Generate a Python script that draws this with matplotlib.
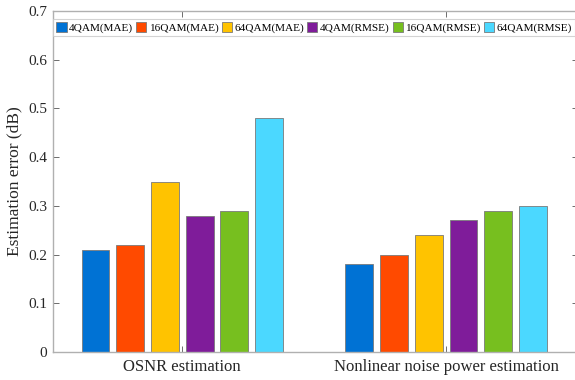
import matplotlib.pyplot as plt
import numpy as np

plt.rcParams['font.family'] = ['Liberation Serif', 'DejaVu Serif']

groups = ['OSNR estimation', 'Nonlinear noise power estimation']
series = ['4QAM(MAE)', '16QAM(MAE)', '64QAM(MAE)', '4QAM(RMSE)', '16QAM(RMSE)', '64QAM(RMSE)']
values = [
    [0.21, 0.18],
    [0.22, 0.20],
    [0.35, 0.24],
    [0.28, 0.27],
    [0.29, 0.29],
    [0.48, 0.30],
]
colors = ['#0072D4', '#FF4A00', '#FFC300', '#7F1C9A', '#77BF1F', '#4BD8FF']

fig = plt.figure(figsize=(5.75, 3.8), dpi=100)
ax = fig.add_axes([53 / 575, 28 / 380, (578 - 53) / 575, 341 / 380])

x = np.arange(1, len(groups) + 1)
step = 0.1316
width = 0.8 * step
for i, (name, vals, c) in enumerate(zip(series, values, colors)):
    ax.bar(x + (i - 2.5) * step, vals, width, color=c, edgecolor='#7a7a7a',
           linewidth=0.6, label=name)

ax.set_xlim(0.51, 2.5)
ax.set_ylim(0, 0.7)
ax.set_xticks(x)
ax.set_xticklabels(groups, fontsize=12, color='#262626')
ax.set_yticks(np.arange(0, 0.71, 0.1))
ax.set_yticklabels(['0'] + [f'{v:.1f}' for v in np.arange(0.1, 0.71, 0.1)],
                   fontsize=11, color='#262626')
ax.set_ylabel('Estimation error (dB)', fontsize=12.5, color='#262626', labelpad=4)

ax.tick_params(direction='in', length=4, width=0.6, color='#555555',
               top=True, right=True, pad=4)
ax.tick_params(axis='x', length=4, pad=5)
for s in ax.spines.values():
    s.set_color('#b0b0b0')
    s.set_linewidth(1.0)

leg = ax.legend(ncol=6, loc='upper left', bbox_to_anchor=(0.0, 0.977),
                fontsize=8.1, frameon=True, fancybox=False, handlelength=0.9,
                handleheight=0.9, handletextpad=0.2, columnspacing=0.3,
                borderpad=0.3, borderaxespad=0.0)
leg.get_frame().set_edgecolor('#c8c8c8')
leg.get_frame().set_linewidth(0.8)

fig.savefig('out.png', dpi=100)
